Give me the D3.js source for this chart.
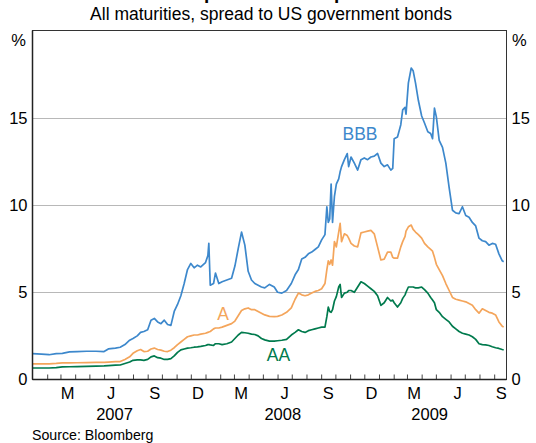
<!DOCTYPE html>
<html>
<head>
<meta charset="utf-8">
<script src="https://cdn.jsdelivr.net/npm/d3@7"></script>
<style>
  html, body { margin: 0; padding: 0; background: #fff; }
  svg { display: block; }
  text { font-family: "Liberation Sans", Arial, Helvetica, sans-serif; }
</style>
</head>
<body>
<svg id="chart" width="536" height="443"></svg>
<script>
// ---------------- data ----------------
const title = "US Corporate Bond Spreads";
const subtitle = "All maturities, spread to US government bonds";
const source = "Source: Bloomberg";

const dates = [
"2007-01-01","2007-01-20","2007-02-05","2007-02-20","2007-03-05","2007-03-20","2007-04-05","2007-04-25",
"2007-05-15","2007-06-01","2007-06-10","2007-06-25","2007-07-05","2007-07-15","2007-07-25","2007-08-01",
"2007-08-10","2007-08-17","2007-08-24","2007-09-01","2007-09-08","2007-09-15","2007-09-22","2007-09-29",
"2007-10-06","2007-10-13","2007-10-20","2007-10-27","2007-11-03","2007-11-10","2007-11-17","2007-11-24",
"2007-12-01","2007-12-08","2007-12-15","2007-12-22","2008-01-01","2008-01-06","2008-01-08","2008-01-11",
"2008-01-18","2008-01-22","2008-01-29","2008-02-05","2008-02-15","2008-02-25","2008-03-03","2008-03-10",
"2008-03-17","2008-03-24","2008-03-31","2008-04-07","2008-04-14","2008-04-21","2008-04-28","2008-05-05",
"2008-05-15","2008-05-25","2008-06-01","2008-06-10","2008-06-20","2008-06-30","2008-07-08","2008-07-15",
"2008-07-22","2008-07-29","2008-08-05","2008-08-12","2008-08-19","2008-08-26","2008-09-02","2008-09-09",
"2008-09-13","2008-09-16","2008-09-19","2008-09-22","2008-09-25","2008-09-29","2008-10-03","2008-10-08",
"2008-10-11","2008-10-14","2008-10-20","2008-10-26","2008-10-29","2008-11-03","2008-11-10","2008-11-17",
"2008-11-24","2008-12-01","2008-12-08","2008-12-15","2008-12-22","2008-12-29","2009-01-05","2009-01-12",
"2009-01-19","2009-01-26","2009-01-30","2009-02-02","2009-02-09","2009-02-16","2009-02-20","2009-02-25",
"2009-02-27","2009-03-04","2009-03-10","2009-03-14","2009-03-19","2009-03-25","2009-04-01","2009-04-07",
"2009-04-14","2009-04-20","2009-04-24","2009-04-28","2009-05-02","2009-05-08","2009-05-15","2009-05-22",
"2009-05-29","2009-06-05","2009-06-12","2009-06-19","2009-06-26","2009-07-03","2009-07-10","2009-07-17",
"2009-07-24","2009-07-31","2009-08-07","2009-08-14","2009-08-21","2009-08-28","2009-09-04","2009-09-11",
"2009-09-18","2009-09-21"
];

const bbb = [
1.48,1.45,1.42,1.48,1.50,1.58,1.60,1.62,
1.62,1.60,1.75,1.80,1.85,2.00,2.25,2.35,
2.50,2.70,2.75,2.85,3.40,3.50,3.30,3.20,
3.40,3.15,3.10,3.90,4.30,4.80,5.50,6.30,
6.65,6.40,6.55,6.45,6.70,7.10,7.80,5.40,
5.50,6.10,5.50,5.60,5.70,5.80,6.50,7.50,
8.45,7.70,6.20,5.70,5.50,5.40,5.30,5.25,
5.45,5.30,5.00,4.95,5.10,5.50,6.00,6.30,
6.90,7.00,7.20,7.30,7.45,7.60,8.00,8.30,
9.90,9.00,9.20,11.20,9.00,10.50,11.20,11.50,
11.90,12.20,12.60,12.95,12.20,12.75,12.40,12.00,
12.60,12.70,12.60,12.75,12.80,12.95,12.40,12.20,
12.30,12.00,12.10,13.80,13.90,14.60,15.45,15.60,
15.20,17.00,17.85,17.70,17.00,16.00,15.10,14.70,
14.20,14.10,13.80,15.55,15.05,13.70,13.30,12.40,
11.00,9.70,9.55,9.50,9.90,9.40,9.30,9.00,
8.80,8.10,7.95,7.90,7.70,7.80,7.75,7.20,
6.80,6.75
];

const singleA = [
0.90,0.90,0.90,0.92,0.95,0.95,0.96,0.97,
0.98,0.98,1.00,1.02,1.03,1.15,1.30,1.50,
1.65,1.72,1.60,1.62,1.75,1.80,1.72,1.68,
1.62,1.60,1.68,1.82,2.00,2.15,2.30,2.45,
2.50,2.55,2.55,2.60,2.65,2.70,2.72,2.75,
2.90,2.95,2.95,3.00,3.10,3.20,3.35,3.65,
3.95,4.05,4.10,4.00,4.00,3.90,3.80,3.70,
3.62,3.60,3.62,3.70,3.85,4.10,4.60,4.95,
4.85,4.80,4.85,4.95,5.05,5.10,5.20,5.50,
6.30,6.80,6.60,6.85,6.55,7.90,7.60,8.45,
8.95,7.90,8.35,8.25,8.10,7.80,7.65,7.60,
8.40,8.45,8.50,8.55,8.35,7.60,6.85,6.90,
7.30,7.30,7.00,6.95,6.95,7.60,7.90,8.20,
8.50,8.75,8.85,8.60,8.45,8.30,8.10,7.80,
7.60,7.45,7.35,7.00,6.60,6.30,5.95,5.50,
5.10,4.70,4.60,4.55,4.50,4.45,4.35,4.25,
4.00,3.80,4.05,3.95,3.85,3.80,3.70,3.30,
3.05,3.00
];

const aa = [
0.66,0.66,0.66,0.68,0.72,0.73,0.74,0.75,
0.77,0.78,0.80,0.82,0.83,0.92,1.00,1.10,
1.12,1.12,1.10,1.15,1.30,1.35,1.25,1.22,
1.15,1.15,1.20,1.35,1.55,1.70,1.75,1.80,
1.82,1.85,1.87,1.90,1.95,2.00,2.00,1.98,
1.95,2.05,2.05,2.00,2.05,2.15,2.35,2.55,
2.70,2.68,2.65,2.60,2.58,2.50,2.35,2.27,
2.20,2.20,2.22,2.25,2.30,2.55,2.70,2.85,
2.75,2.70,2.80,2.85,2.90,2.95,3.00,3.00,
3.60,4.15,3.90,3.85,4.00,4.50,4.75,5.30,
5.45,4.70,4.95,5.00,5.10,5.10,5.00,5.30,
5.60,5.50,5.35,5.20,5.05,4.80,4.25,4.40,
4.70,4.50,4.55,4.40,4.15,4.40,4.65,4.85,
5.00,5.30,5.30,5.30,5.25,5.25,5.30,5.15,
4.95,4.70,4.55,4.40,4.00,3.85,3.60,3.45,
3.30,3.05,2.90,2.75,2.65,2.60,2.55,2.45,
2.30,2.05,2.00,1.98,1.95,1.88,1.82,1.78,
1.72,1.70
];

const seriesNames = ["BBB", "A", "AA"];
const seriesColors = ["#3d88cc", "#f4a55b", "#007a4d"];
const yTicks = [0, 5, 10, 15];
const yDomain = [0, 20];
const xDomain = ["2007-01-01", "2009-09-27"];
const monthLabels = ["M","J","S","D","M","J","S","D","M","J","S"];
const monthLabelDates = ["2007-03-16","2007-06-16","2007-09-16","2007-12-16","2008-03-16","2008-06-16","2008-09-16","2008-12-16","2009-03-16","2009-06-16","2009-09-16"];
const yearLabels = ["2007","2008","2009"];
const yearLabelDates = ["2007-06-23","2008-06-12","2009-04-18"];
// label anchor points (date, value) for series names
const seriesLabelPos = [["2008-11-22", 13.7], ["2008-02-07", 3.4], ["2008-06-03", 1.07]];

// ---------------- chart ----------------
const parse = d3.timeParse("%Y-%m-%d");
const svg = d3.select("#chart");
const m = { left: 32.5, right: 506.5, top: 30.5, bottom: 379.5 };

const x = d3.scaleTime().domain(xDomain.map(parse)).range([m.left, m.right]);
const y = d3.scaleLinear().domain(yDomain).range([m.bottom, m.top]);

const FONT = 16.5;

// title (mostly cropped above the view) and subtitle
svg.append("text").attr("x", 268).attr("y", -1).attr("text-anchor", "middle")
  .attr("font-size", 19).attr("font-weight", "bold").attr("fill", "#000").text(title);
svg.append("text").attr("x", 271).attr("y", 20).attr("text-anchor", "middle")
  .attr("font-size", 17.5).attr("fill", "#000").text(subtitle);

// grid lines
svg.append("g").selectAll("line").data(yTicks.filter(t => t > 0)).join("line")
  .attr("x1", m.left).attr("x2", m.right)
  .attr("y1", d => Math.round(y(d)) + 0.5).attr("y2", d => Math.round(y(d)) + 0.5)
  .attr("stroke", "#b8b8b8").attr("stroke-width", 1);

// month ticks (inside, on bottom axis)
const monthTicks = d3.timeMonth.range(d3.timeMonth.offset(x.domain()[0], 1), x.domain()[1]);
const xAxis = d3.axisBottom(x).tickValues(monthTicks).tickSize(-5).tickFormat("");
const gx = svg.append("g").attr("transform", `translate(0,${m.bottom})`).call(xAxis);
gx.select(".domain").remove();
gx.selectAll(".tick line").attr("stroke", "#444").attr("stroke-width", 1);

// y axis labels left & right
const yl = d3.axisLeft(y).tickValues(yTicks).tickSize(0).tickPadding(5);
const gyl = svg.append("g").attr("transform", `translate(${m.left},0)`).call(yl);
gyl.select(".domain").remove();
gyl.selectAll("text").attr("font-size", FONT).attr("fill", "#000")
  .attr("font-family", "Liberation Sans, Arial, sans-serif");
const yr = d3.axisRight(y).tickValues(yTicks).tickSize(0).tickPadding(5);
const gyr = svg.append("g").attr("transform", `translate(${m.right},0)`).call(yr);
gyr.select(".domain").remove();
gyr.selectAll("text").attr("font-size", FONT).attr("fill", "#000")
  .attr("font-family", "Liberation Sans, Arial, sans-serif");

svg.append("text").attr("x", 26).attr("y", 46).attr("text-anchor", "end")
  .attr("font-size", FONT).text("%");
svg.append("text").attr("x", 512).attr("y", 46).attr("text-anchor", "start")
  .attr("font-size", FONT).text("%");

// lines
const valueSets = [bbb, singleA, aa];
const line = d3.line().x(d => x(d[0])).y(d => y(d[1]));
const pDates = dates.map(parse);
valueSets.forEach((vals, i) => {
  svg.append("path")
    .datum(pDates.map((d, j) => [d, vals[j]]))
    .attr("fill", "none").attr("stroke", seriesColors[i])
    .attr("stroke-width", 1.7).attr("stroke-linejoin", "round")
    .attr("d", line);
});

// series labels
seriesLabelPos.forEach((p, i) => {
  svg.append("text").attr("x", x(parse(p[0]))).attr("y", y(p[1]))
    .attr("text-anchor", "middle").attr("font-size", 17.5)
    .attr("fill", seriesColors[i]).text(seriesNames[i]);
});

// frame
svg.append("rect").attr("x", m.left).attr("y", m.top)
  .attr("width", m.right - m.left).attr("height", m.bottom - m.top)
  .attr("fill", "none").attr("stroke", "#333").attr("stroke-width", 1);
svg.append("line").attr("x1", m.left).attr("x2", m.left).attr("y1", m.top).attr("y2", m.bottom)
  .attr("stroke", "#222").attr("stroke-width", 1.5);
svg.append("line").attr("x1", m.left).attr("x2", m.right).attr("y1", m.bottom).attr("y2", m.bottom)
  .attr("stroke", "#222").attr("stroke-width", 1.5);

// x labels
svg.append("g").selectAll("text").data(monthLabels).join("text")
  .attr("x", (d, i) => x(parse(monthLabelDates[i]))).attr("y", 399)
  .attr("text-anchor", "middle").attr("font-size", FONT).text(d => d);
svg.append("g").selectAll("text").data(yearLabels).join("text")
  .attr("x", (d, i) => x(parse(yearLabelDates[i]))).attr("y", 420)
  .attr("text-anchor", "middle").attr("font-size", FONT).text(d => d);

svg.append("text").attr("x", 32).attr("y", 440).attr("font-size", 14.2).text(source);
</script>
</body>
</html>
